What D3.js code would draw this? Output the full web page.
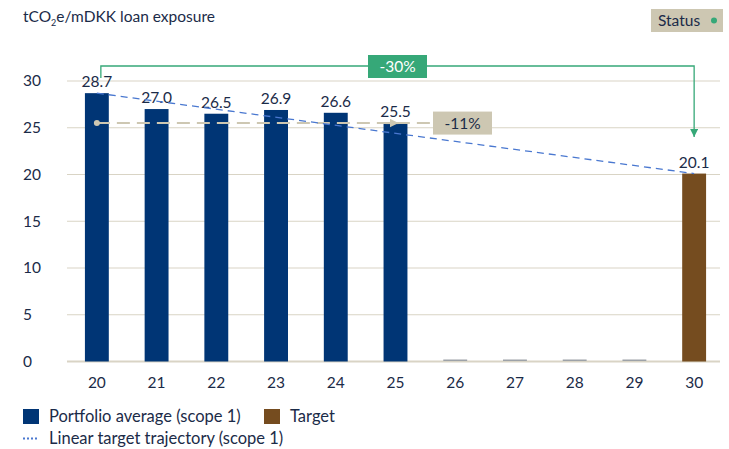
<!DOCTYPE html>
<html>
<head>
<meta charset="utf-8">
<script src="https://cdn.jsdelivr.net/npm/d3@7"></script>
<style>
  body { margin: 0; background: #fff; }
  svg { display: block; font-family: Lato, "Open Sans", sans-serif; }
</style>
</head>
<body>
<svg id="chart"></svg>
<script>
// data
let years = ["20", "21", "22", "23", "24", "25", "26", "27", "28", "29", "30"];
let portfolio = [28.7, 27.0, 26.5, 26.9, 26.6, 25.5, 0, 0, 0, 0, null];
let target = [null, null, null, null, null, null, null, null, null, null, 20.1];
let trajectory = [["20", 28.7], ["30", 20.1]];
let yTicks = [0, 5, 10, 15, 20, 25, 30];
let statusValue = 25.5; // 28.7 * (1 - 11%)

let width = 729;
let height = 449;

let navy = "#003575";
let brown = "#754c1f";
let green = "#36a878";
let beige = "#cdc7b2";
let grid = "#d9d4c5";
let ink = "#1b2b48";
let fs = 15.5;

let svg = d3.select("#chart").attr("width", width).attr("height", height);

let xScale = d3.scaleBand()
  .domain(years)
  .range([67, 724])
  .paddingInner(0.6)
  .paddingOuter(0.3);

let yScale = d3.scaleLinear()
  .domain([0, 30])
  .range([361.5, 81]);

let cx = (d) => xScale(d) + xScale.bandwidth() / 2;

// title
let title = svg.append("text")
  .attr("x", 23).attr("y", 22)
  .attr("fill", ink).attr("font-size", fs);
title.append("tspan").text("tCO");
title.append("tspan").text("2").attr("font-size", 9).attr("dy", 4);
title.append("tspan").text("e/mDKK loan exposure").attr("dy", -4);

// status badge
let status = svg.append("g");
status.append("rect").attr("x", 651).attr("y", 9).attr("width", 72).attr("height", 23).attr("fill", beige);
status.append("text").attr("x", 658).attr("y", 26).attr("fill", ink).attr("font-size", fs).text("Status");
status.append("circle").attr("cx", 714).attr("cy", 20.5).attr("r", 3).attr("fill", green);

// gridlines + y labels
let yAxis = svg.append("g");
yAxis.selectAll("line")
  .data(yTicks)
  .enter()
  .append("line")
  .attr("x1", 67).attr("x2", 720)
  .attr("y1", (d) => yScale(d)).attr("y2", (d) => yScale(d))
  .attr("stroke", grid).attr("stroke-width", (d) => d === 0 ? 2 : 1.2);
yAxis.selectAll("text")
  .data(yTicks)
  .enter()
  .append("text")
  .attr("x", 23)
  .attr("y", (d) => yScale(d))
  .attr("dy", "0.35em")
  .attr("fill", ink).attr("font-size", fs)
  .text((d) => d);

// x labels
let xAxis = d3.axisBottom(xScale).tickSize(0).tickPadding(0);
svg.append("g")
  .attr("transform", "translate(0, 377)")
  .call(xAxis)
  .call((g) => g.select(".domain").remove())
  .call((g) => g.selectAll("text")
    .attr("fill", ink).attr("font-size", fs)
    .attr("font-family", "Lato, 'Open Sans', sans-serif"));

// portfolio bars
let pData = years.map((y, i) => [y, portfolio[i]]).filter((d) => d[1] !== null);
svg.selectAll(".bar")
  .data(pData)
  .enter()
  .append("rect")
  .attr("class", "bar")
  .attr("x", (d) => xScale(d[0]))
  .attr("width", xScale.bandwidth())
  .attr("y", (d) => d[1] > 0 ? yScale(d[1]) : yScale(0) - 2)
  .attr("height", (d) => d[1] > 0 ? yScale(0) - yScale(d[1]) : 1.5)
  .attr("fill", (d) => d[1] > 0 ? navy : "#9da2a8");

// target bar
let tData = years.map((y, i) => [y, target[i]]).filter((d) => d[1] !== null);
svg.selectAll(".target")
  .data(tData)
  .enter()
  .append("rect")
  .attr("class", "target")
  .attr("x", (d) => xScale(d[0]))
  .attr("width", xScale.bandwidth())
  .attr("y", (d) => yScale(d[1]))
  .attr("height", (d) => yScale(0) - yScale(d[1]))
  .attr("fill", brown);

// value labels
let labelData = pData.filter((d) => d[1] > 0).concat(tData);
svg.selectAll(".val")
  .data(labelData)
  .enter()
  .append("text")
  .attr("class", "val")
  .attr("x", (d) => cx(d[0]))
  .attr("y", (d) => yScale(d[1]) - 6)
  .attr("text-anchor", "middle")
  .attr("fill", ink).attr("font-size", fs)
  .text((d) => d[1].toFixed(1));

// markers
let defs = svg.append("defs");
defs.append("marker")
  .attr("id", "arrGreen").attr("viewBox", "0 0 10 10")
  .attr("refX", 10).attr("refY", 5)
  .attr("markerWidth", 8).attr("markerHeight", 8)
  .attr("markerUnits", "userSpaceOnUse")
  .attr("orient", "auto")
  .append("path").attr("d", "M0,0 L10,5 L0,10 Z").attr("fill", green);
defs.append("marker")
  .attr("id", "arrBeige").attr("viewBox", "0 0 10 10")
  .attr("refX", 10).attr("refY", 5)
  .attr("markerWidth", 9).attr("markerHeight", 9)
  .attr("markerUnits", "userSpaceOnUse")
  .attr("orient", "auto")
  .append("path").attr("d", "M0,0 L10,5 L0,10 Z").attr("fill", beige);

// status (-11%) dashed line
let first = pData[0];
let last = pData.filter((d) => d[1] > 0).slice(-1)[0];
svg.append("line")
  .attr("x1", cx(first[0])).attr("x2", 433)
  .attr("y1", yScale(statusValue)).attr("y2", yScale(statusValue))
  .attr("stroke", beige).attr("stroke-width", 2)
  .attr("stroke-dasharray", "13,7");
svg.append("line")
  .attr("x1", cx(last[0]) - 10).attr("x2", cx(last[0]) + 3)
  .attr("y1", yScale(statusValue)).attr("y2", yScale(statusValue))
  .attr("stroke", beige).attr("stroke-width", 2)
  .attr("marker-end", "url(#arrBeige)");
svg.append("circle")
  .attr("cx", cx(first[0])).attr("cy", yScale(statusValue))
  .attr("r", 3).attr("fill", beige);
svg.append("rect")
  .attr("x", 433).attr("y", yScale(statusValue) - 11.5)
  .attr("width", 59).attr("height", 23).attr("fill", beige);
svg.append("text")
  .attr("x", 462.5).attr("y", yScale(statusValue) + 5.5)
  .attr("text-anchor", "middle").attr("fill", ink).attr("font-size", fs)
  .text("-11%");

// linear trajectory
let line = d3.line().x((d) => cx(d[0])).y((d) => yScale(d[1]));
svg.append("path")
  .datum(trajectory)
  .attr("d", line)
  .attr("fill", "none")
  .attr("stroke", "#4a78d0").attr("stroke-width", 1.3)
  .attr("stroke-dasharray", "7,5");

// -30% bracket
let bx1 = cx(first[0]) + 4;
let bx2 = cx(tData[0][0]);
let by = 66;
svg.append("path")
  .attr("d", `M${bx1},78 V${by} H${bx2} V137`)
  .attr("fill", "none").attr("stroke", green).attr("stroke-width", 1.3)
  .attr("marker-end", "url(#arrGreen)");
svg.append("rect")
  .attr("x", 368).attr("y", 55).attr("width", 59).attr("height", 23).attr("fill", green);
svg.append("text")
  .attr("x", 397.5).attr("y", 72)
  .attr("text-anchor", "middle").attr("fill", "#fff").attr("font-size", fs)
  .text("-30%");

// legend
let legend = svg.append("g").attr("font-size", 16.5).attr("fill", ink);
legend.append("rect").attr("x", 23).attr("y", 409).attr("width", 16).attr("height", 15).attr("fill", navy);
legend.append("text").attr("x", 49).attr("y", 422).text("Portfolio average (scope 1)");
legend.append("rect").attr("x", 264).attr("y", 409).attr("width", 16).attr("height", 15).attr("fill", brown);
legend.append("text").attr("x", 290).attr("y", 422).text("Target");
legend.append("line").attr("x1", 23).attr("x2", 39).attr("y1", 438.5).attr("y2", 438.5)
  .attr("stroke", "#4a78d0").attr("stroke-width", 2).attr("stroke-dasharray", "2,2");
legend.append("text").attr("x", 49).attr("y", 444).text("Linear target trajectory (scope 1)");
</script>
</body>
</html>
